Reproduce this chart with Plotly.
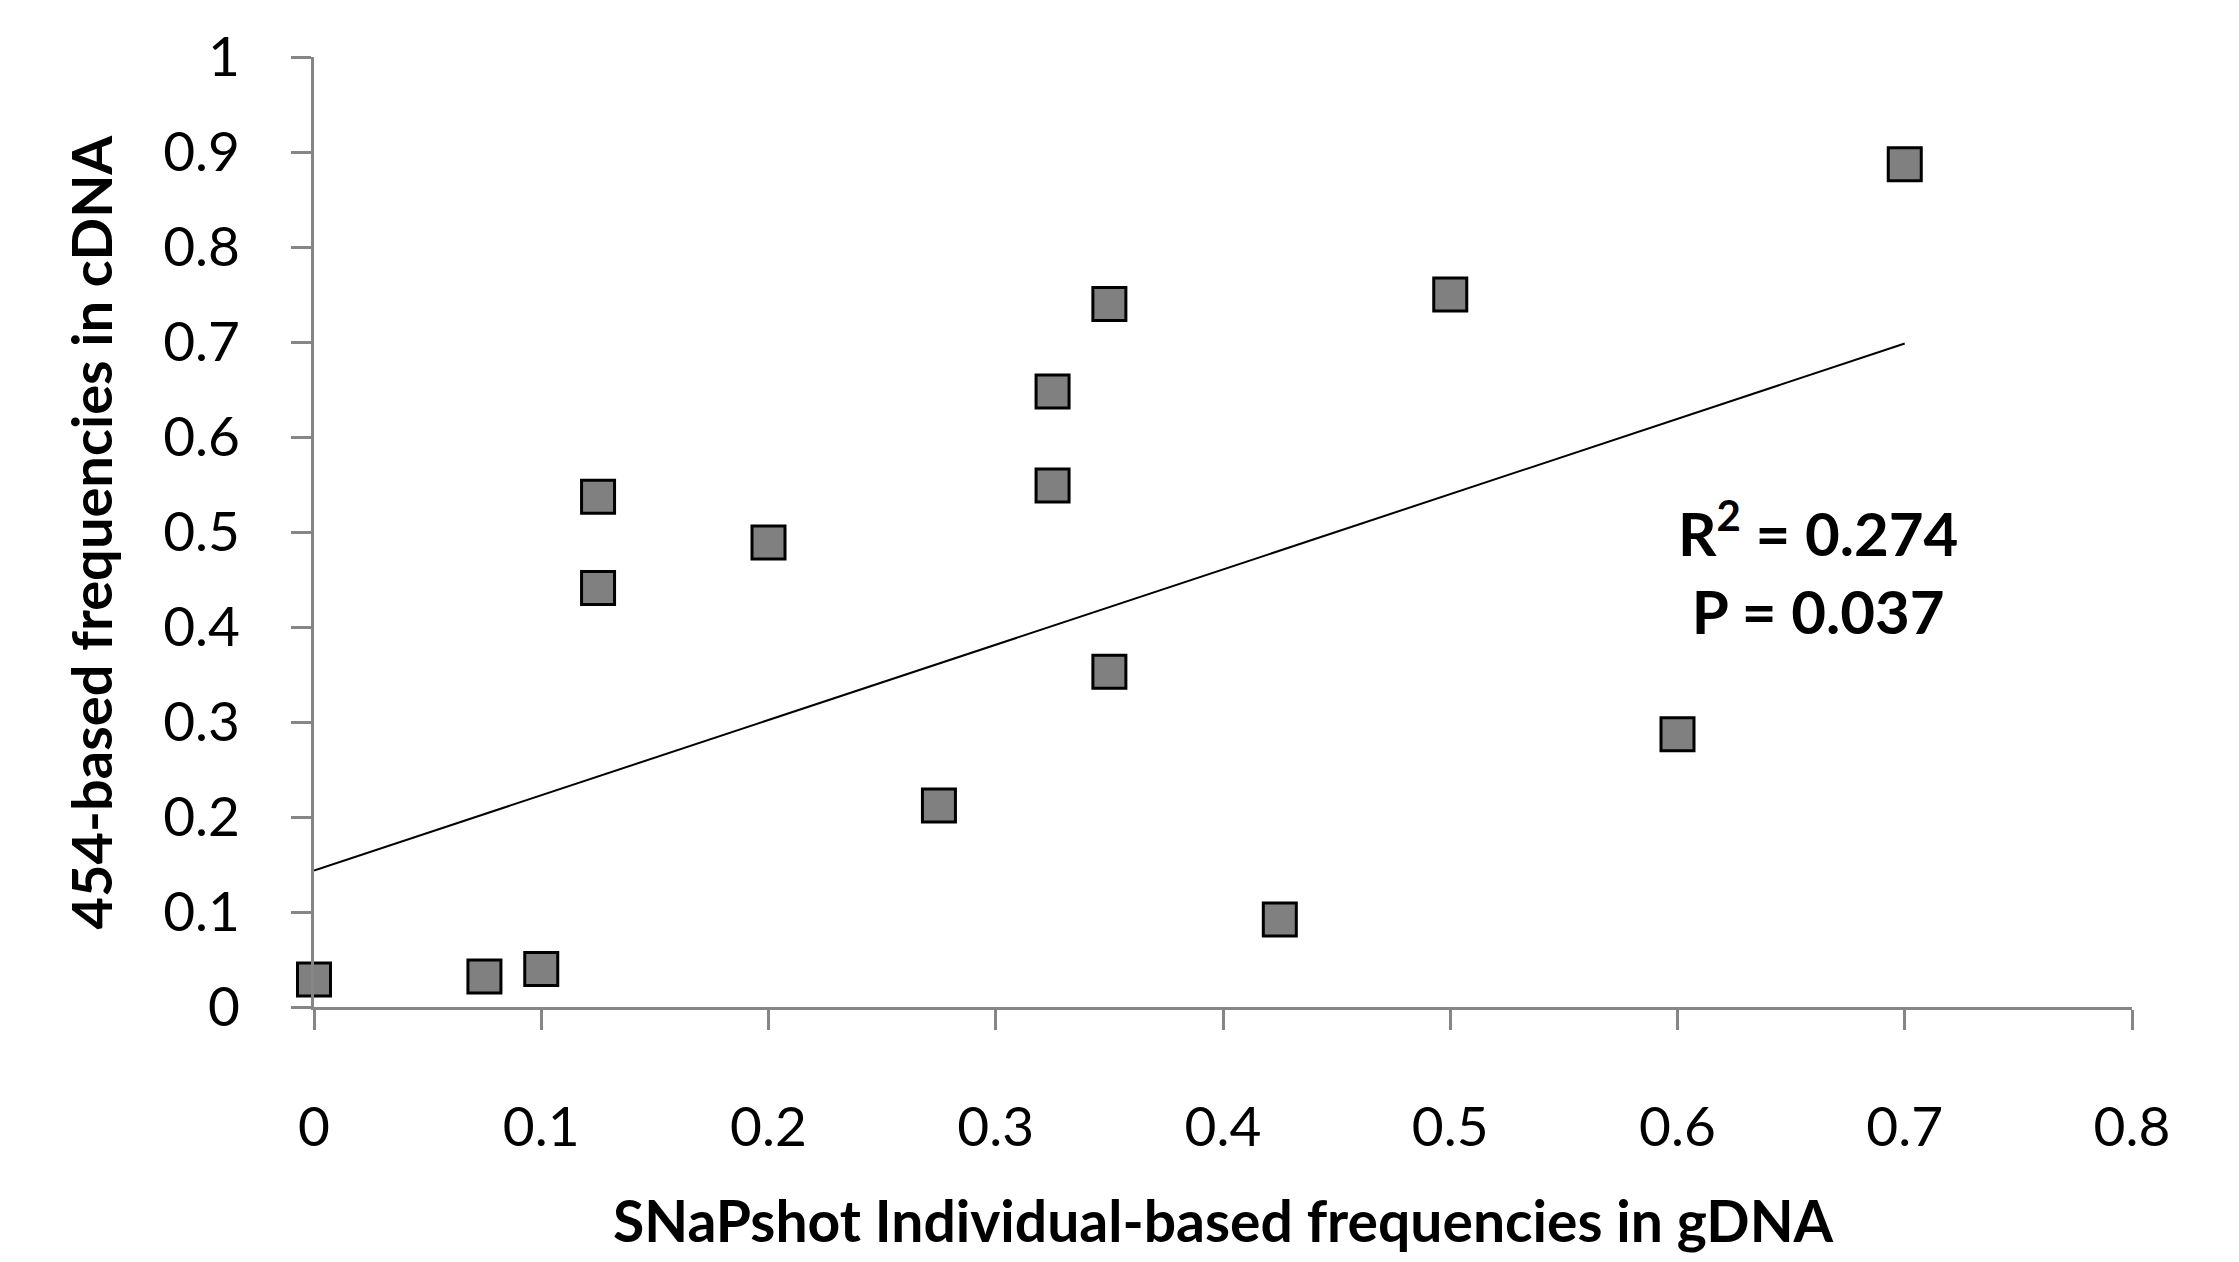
import numpy as np
import plotly.graph_objects as go

# Data
snapshot_gdna = [0.0, 0.075, 0.1, 0.125, 0.125, 0.2, 0.275, 0.3, 0.325, 0.325,
                 0.35, 0.35, 0.425, 0.5, 0.6, 0.7]
freq_cdna = [0.029, 0.032, 0.04, 0.537, 0.441, 0.489, 0.212, -0.004, 0.648, 0.549,
             0.74, 0.353, 0.092, 0.75, 0.287, 0.887]
x_ticks = [0, 0.1, 0.2, 0.3, 0.4, 0.5, 0.6, 0.7, 0.8]
y_ticks = [0, 0.1, 0.2, 0.3, 0.4, 0.5, 0.6, 0.7, 0.8, 0.9, 1]
stats_text = "R<sup>2</sup> = 0.274<br>P = 0.037"
x_title = "SNaPshot Individual-based frequencies in gDNA"
y_title = "454-based frequencies in cDNA"

# Linear trendline fitted from the data
slope, intercept = np.polyfit(snapshot_gdna, freq_cdna, 1)
trend_x = [min(snapshot_gdna), max(snapshot_gdna)]
trend_y = [intercept + slope * v for v in trend_x]

FONT = "Lato"
AXIS_COLOR = "#868686"

fig = go.Figure()
fig.add_trace(go.Scatter(
    x=trend_x, y=trend_y, mode="lines",
    line=dict(color="#000000", width=2),
    showlegend=False, hoverinfo="skip",
))
fig.add_trace(go.Scatter(
    x=snapshot_gdna, y=freq_cdna, mode="markers",
    marker=dict(symbol="square", size=33, color="#808080",
                line=dict(color="#000000", width=3)),
    cliponaxis=False, showlegend=False,
))

fig.update_layout(
    width=2239, height=1262,
    margin=dict(l=314, r=107, t=57, b=255),
    paper_bgcolor="#ffffff", plot_bgcolor="#ffffff",
    font=dict(family=FONT, color="#000000"),
    xaxis=dict(
        range=[0, 0.8], tickvals=x_ticks, ticktext=[f"{v:g}" for v in x_ticks],
        showgrid=False, zeroline=False, showline=True,
        linecolor=AXIS_COLOR, linewidth=3,
        ticks="outside", ticklen=20, tickwidth=3, tickcolor=AXIS_COLOR,
        tickfont=dict(family=FONT, size=55, color="#000000"),
        ticklabelstandoff=50,
    ),
    yaxis=dict(
        range=[0, 1], tickvals=y_ticks, ticktext=[f"{v:g}" for v in y_ticks],
        showgrid=False, zeroline=False, showline=True,
        linecolor=AXIS_COLOR, linewidth=3,
        ticks="outside", ticklen=20, tickwidth=3, tickcolor=AXIS_COLOR,
        tickfont=dict(family=FONT, size=55, color="#000000"),
        ticklabelstandoff=40,
    ),
    annotations=[
        dict(text=f"<b>{x_title}</b>", xref="paper", yref="paper",
             x=0.5, y=-0.224, xanchor="center", yanchor="middle",
             showarrow=False, font=dict(family=FONT, size=57, color="#000000")),
        dict(text=f"<b>{y_title}</b>", xref="paper", yref="paper",
             x=-0.123, y=0.5, xanchor="center", yanchor="middle", textangle=-90,
             showarrow=False, font=dict(family=FONT, size=56, color="#000000")),
        dict(text=f"<b>{stats_text}</b>", xref="x", yref="y",
             x=0.662, y=0.462, xanchor="center", yanchor="middle",
             showarrow=False, font=dict(family=FONT, size=60, color="#000000")),
    ],
)

fig.write_html("out.html")
